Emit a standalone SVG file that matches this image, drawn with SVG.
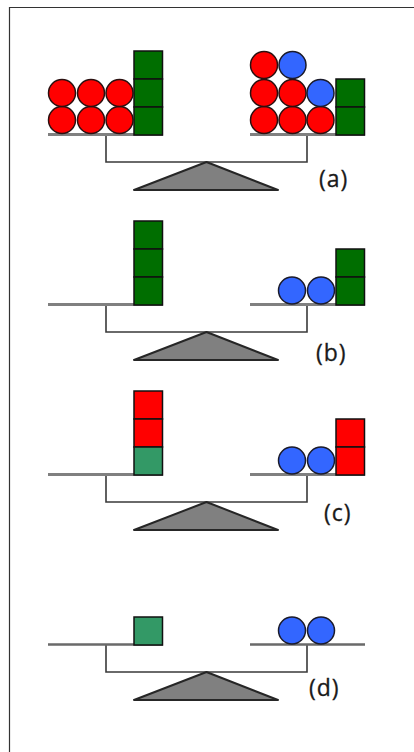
<svg xmlns="http://www.w3.org/2000/svg" xmlns:xlink="http://www.w3.org/1999/xlink" width="414" height="752" viewBox="0 0 414 752">
<style>
.pan{stroke:#808080;stroke-width:3;fill:none}
.beam{stroke:#3a3a3a;stroke-width:1.6;fill:none}
.tri{fill:#808080;stroke:#262626;stroke-width:2;stroke-linejoin:round}
.r{fill:#ff0000;stroke:#2a1010;stroke-width:1.5}
.b{fill:#3366ff;stroke:#1a1a2a;stroke-width:1.5}
.g{fill:#006e00;stroke:#101010;stroke-width:1.5}
.lg{fill:#339966;stroke:#101010;stroke-width:1.5}
.rs{fill:#ff0000;stroke:#101010;stroke-width:1.5}
.lbl{font-family:"Open Sans","Liberation Sans",sans-serif;font-size:23px;fill:#1a1a1a;letter-spacing:1px;stroke:#1a1a1a;stroke-width:0.3}
</style>
<defs>
<circle id="c" cx="0" cy="0" r="13.5"/>
<rect id="s" x="0" y="0" width="28.5" height="28"/>
</defs>
<rect width="414" height="752" fill="#ffffff"/>
<g id="frame" stroke="#333" stroke-width="1.2" fill="none">
<path d="M9.5 752 V7.5 H414"/>
</g>

<g id="connectors">
<path class="beam" d="M106 134 V162 H307 V134"/>
<path class="beam" d="M106 304 V332 H307 V304"/>
<path class="beam" d="M106 474 V502 H307 V474"/>
<path class="beam" d="M106 644 V672 H307 V644"/>
</g>

<g id="panel-a">
<g id="a-pans"><path class="pan" d="M48 134.5 H163 M250 134.5 H365"/></g>
<g id="a-fulcrum"><polygon class="tri" points="206.5,162 134,190 278,190"/></g>
<g id="a-left">
<use href="#c" class="r" x="62" y="120"/><use href="#c" class="r" x="91" y="120"/><use href="#c" class="r" x="119.5" y="120"/>
<use href="#c" class="r" x="62" y="93"/><use href="#c" class="r" x="91" y="93"/><use href="#c" class="r" x="119.5" y="93"/>
<use href="#s" class="g" x="134" y="51"/><use href="#s" class="g" x="134" y="79"/><use href="#s" class="g" x="134" y="107"/>
</g>
<g id="a-right">
<use href="#c" class="r" x="264" y="120"/><use href="#c" class="r" x="292.5" y="120"/><use href="#c" class="r" x="320.5" y="120"/>
<use href="#c" class="r" x="264" y="93"/><use href="#c" class="r" x="292.5" y="93"/><use href="#c" class="b" x="320.5" y="93"/>
<use href="#c" class="r" x="264" y="65"/><use href="#c" class="b" x="292.5" y="65"/>
<use href="#s" class="g" x="336" y="79"/><use href="#s" class="g" x="336" y="107"/>
</g>
<text id="label-a" class="lbl" x="319" y="187">(a)</text>
</g>

<g id="panel-b">
<g id="b-pans"><path class="pan" d="M48 304.5 H163 M250 304.5 H365"/></g>
<g id="b-fulcrum"><polygon class="tri" points="206.5,332 134,360 278,360"/></g>
<g id="b-left">
<use href="#s" class="g" x="134" y="221"/><use href="#s" class="g" x="134" y="249"/><use href="#s" class="g" x="134" y="277"/>
</g>
<g id="b-right">
<use href="#c" class="b" x="292" y="290.5"/><use href="#c" class="b" x="321" y="290.5"/>
<use href="#s" class="g" x="336" y="249"/><use href="#s" class="g" x="336" y="277"/>
</g>
<text id="label-b" class="lbl" x="316" y="361">(b)</text>
</g>

<g id="panel-c">
<g id="c-pans"><path class="pan" d="M48 474.5 H163 M250 474.5 H365"/></g>
<g id="c-fulcrum"><polygon class="tri" points="206.5,502 134,530 278,530"/></g>
<g id="c-left">
<use href="#s" class="rs" x="134" y="391"/><use href="#s" class="rs" x="134" y="419"/><use href="#s" class="lg" x="134" y="447"/>
</g>
<g id="c-right">
<use href="#c" class="b" x="292" y="460.5"/><use href="#c" class="b" x="321" y="460.5"/>
<use href="#s" class="rs" x="336" y="419"/><use href="#s" class="rs" x="336" y="447"/>
</g>
<text id="label-c" class="lbl" x="324" y="521">(c)</text>
</g>

<g id="panel-d">
<g id="d-pans"><path class="pan" d="M48 644.5 H163 M250 644.5 H365" style="stroke:#6a6a6a;stroke-width:2.5"/></g>
<g id="d-fulcrum"><polygon class="tri" points="206.5,672 134,700 278,700"/></g>
<g id="d-left">
<use href="#s" class="lg" x="134" y="617"/>
</g>
<g id="d-right">
<use href="#c" class="b" x="292" y="630.5"/><use href="#c" class="b" x="321" y="630.5"/>
</g>
<text id="label-d" class="lbl" x="309" y="696">(d)</text>
</g>
</svg>
